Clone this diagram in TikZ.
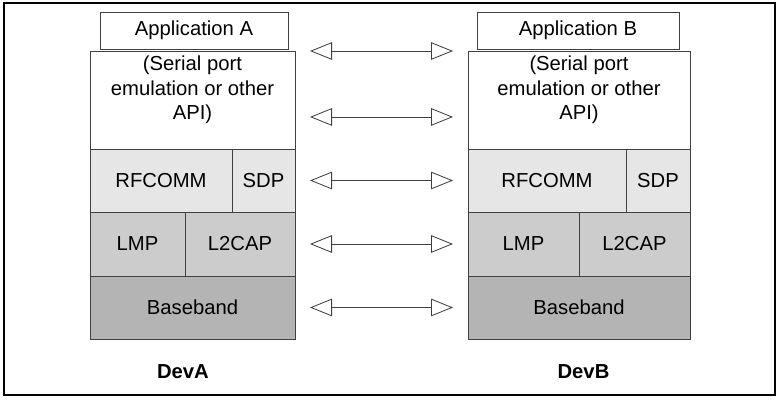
\documentclass[tikz,border=0pt]{standalone}
\usepackage{fontspec}
\setmainfont{Liberation Sans}
\usepackage{tikz}
\usetikzlibrary{calc,arrows.meta}
\definecolor{rowlight}{HTML}{E6E6E6}
\definecolor{rowmid}{HTML}{CCCCCC}
\definecolor{rowdark}{HTML}{B4B4B4}
\tikzset{ layer/.style = { rectangle % protocol layer
        , draw = black!75
        , inner sep = 0pt
        , outer sep = 0pt
        , font = \fontsize{14.4}{17.4}\selectfont
        }
        , dev/.style = { rectangle % device name
        , font = \fontsize{14.4}{17.4}\selectfont\bfseries
        }
        }

\begin{document}
\begin{tikzpicture}[line width=0.6pt,
        app_style/.style={layer,fill=white,minimum height=0.925cm},
        api_style/.style={layer,fill=white,minimum height=2.45cm},
        rf_style/.style={layer,fill=rowlight,minimum height=1.575cm},
        lm_style/.style={layer,fill=rowmid,minimum height=1.6cm},
        bb_style/.style={layer,fill=rowdark,minimum height=1.575cm},
        api_text_style/.style={align=center,anchor=north,font=\fontsize{14.4}{17.4}\selectfont},
        link_style/.style={draw=black!75,{Triangle[open,length=0.55cm,width=0.44cm]}-{Triangle[open,length=0.55cm,width=0.44cm]},shorten <=0.375cm,shorten >=0.375cm}]
        \useasboundingbox (0,0) rectangle (19.5,-10.05);
        \draw [black, line width=1.2pt] (0.1,-0.075) rectangle (19.375,-9.875);

        \node [app_style,minimum width=4.7cm] (appA) at (4.85,-0.7625) {Application A};
        \node [api_style,minimum width=5.125cm,label={[api_text_style]north:{(Serial port\\emulation or other\\API)}}] (apiA) at (4.8125,-2.5) {};
        \node [rf_style,minimum width=3.55cm] (rfA) at (4.025,-4.5125) {RFCOMM};
        \node [rf_style,minimum width=1.575cm] (sdpA) at (6.5875,-4.5125) {SDP};
        \node [lm_style,minimum width=2.375cm] (lmpA) at (3.4375,-6.1) {LMP};
        \node [lm_style,minimum width=2.75cm] (l2A) at (6.0,-6.1) {L2CAP};
        \node [bb_style,minimum width=5.125cm] (bbA) at (4.8125,-7.6875) {Baseband};
        \node [dev] (devA) at (4.575,-9.3) {DevA};

        \node [app_style,minimum width=5.05cm] (appB) at (14.45,-0.7625) {Application B};
        \node [api_style,minimum width=5.55cm,label={[api_text_style]north:{(Serial port\\emulation or other\\API)}}] (apiB) at (14.475,-2.5) {};
        \node [rf_style,minimum width=3.95cm] (rfB) at (13.675,-4.5125) {RFCOMM};
        \node [rf_style,minimum width=1.6cm] (sdpB) at (16.45,-4.5125) {SDP};
        \node [lm_style,minimum width=2.775cm] (lmpB) at (13.0875,-6.1) {LMP};
        \node [lm_style,minimum width=2.775cm] (l2B) at (15.8625,-6.1) {L2CAP};
        \node [bb_style,minimum width=5.55cm] (bbB) at (14.475,-7.6875) {Baseband};
        \node [dev] (devB) at (14.5875,-9.3) {DevB};

        \draw [link_style] (apiA.north east) -- (apiB.north west);
        \draw [link_style] ($(apiA.north east)!0.673!(apiA.south east)$) -- ($(apiB.north west)!0.673!(apiB.south west)$);
        \draw [link_style] (sdpA) -- (rfB);
        \draw [link_style] (l2A) -- (lmpB);
        \draw [link_style] (bbA) -- (bbB);
\end{tikzpicture}
\end{document}
